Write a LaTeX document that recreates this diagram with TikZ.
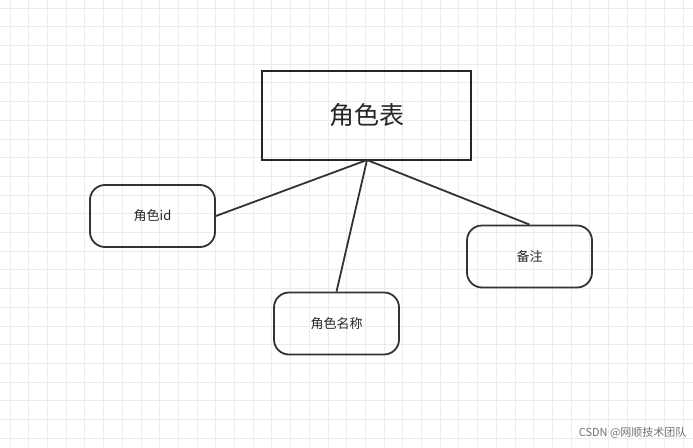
\documentclass[tikz,border=0pt]{standalone}
\usepackage{fontspec}
\newfontfamily\cjk{Noto Sans CJK SC}
\begin{document}
\begin{tikzpicture}[x=1pt,y=-1pt,
  ent/.style={draw=black!80,line width=1.8pt,rounded corners=15pt,minimum width=125pt,minimum height=62pt,font=\cjk\fontsize{13}{15}\selectfont,text=black!85},
  tbl/.style={draw=black!85,line width=1.8pt,minimum width=209pt,minimum height=89pt,font=\cjk\fontsize{25}{28}\selectfont,text=black!85},
  conn/.style={draw=black!80,line width=1.8pt}]
\useasboundingbox (0,0) rectangle (693,447);
\fill[white] (0,0) rectangle (693,447);
\foreach \i in {0,...,36} \draw[black!8,line width=0.8pt] (10+18.7*\i,0) -- (10+18.7*\i,447);
\foreach \i in {0,...,23} \draw[black!8,line width=0.8pt] (0,8+18.7*\i) -- (693,8+18.7*\i);
\node[tbl] (t) at (366.5,115.5) {角色表};
\node[ent] (a) at (152.5,216) {角色id};
\node[ent] (b) at (336.5,323.5) {角色名称};
\node[ent] (c) at (529.5,256.5) {备注};
\coordinate (p) at (367,160);
\draw[conn] (p) -- (a.east);
\draw[conn] (p) -- (b.north);
\draw[conn] (p) -- (c.north);
\node[font=\cjk\fontsize{11}{13}\selectfont,text=black!55,anchor=east] (w) at (690,433) {CSDN @网顺技术团队};
\end{tikzpicture}
\end{document}
